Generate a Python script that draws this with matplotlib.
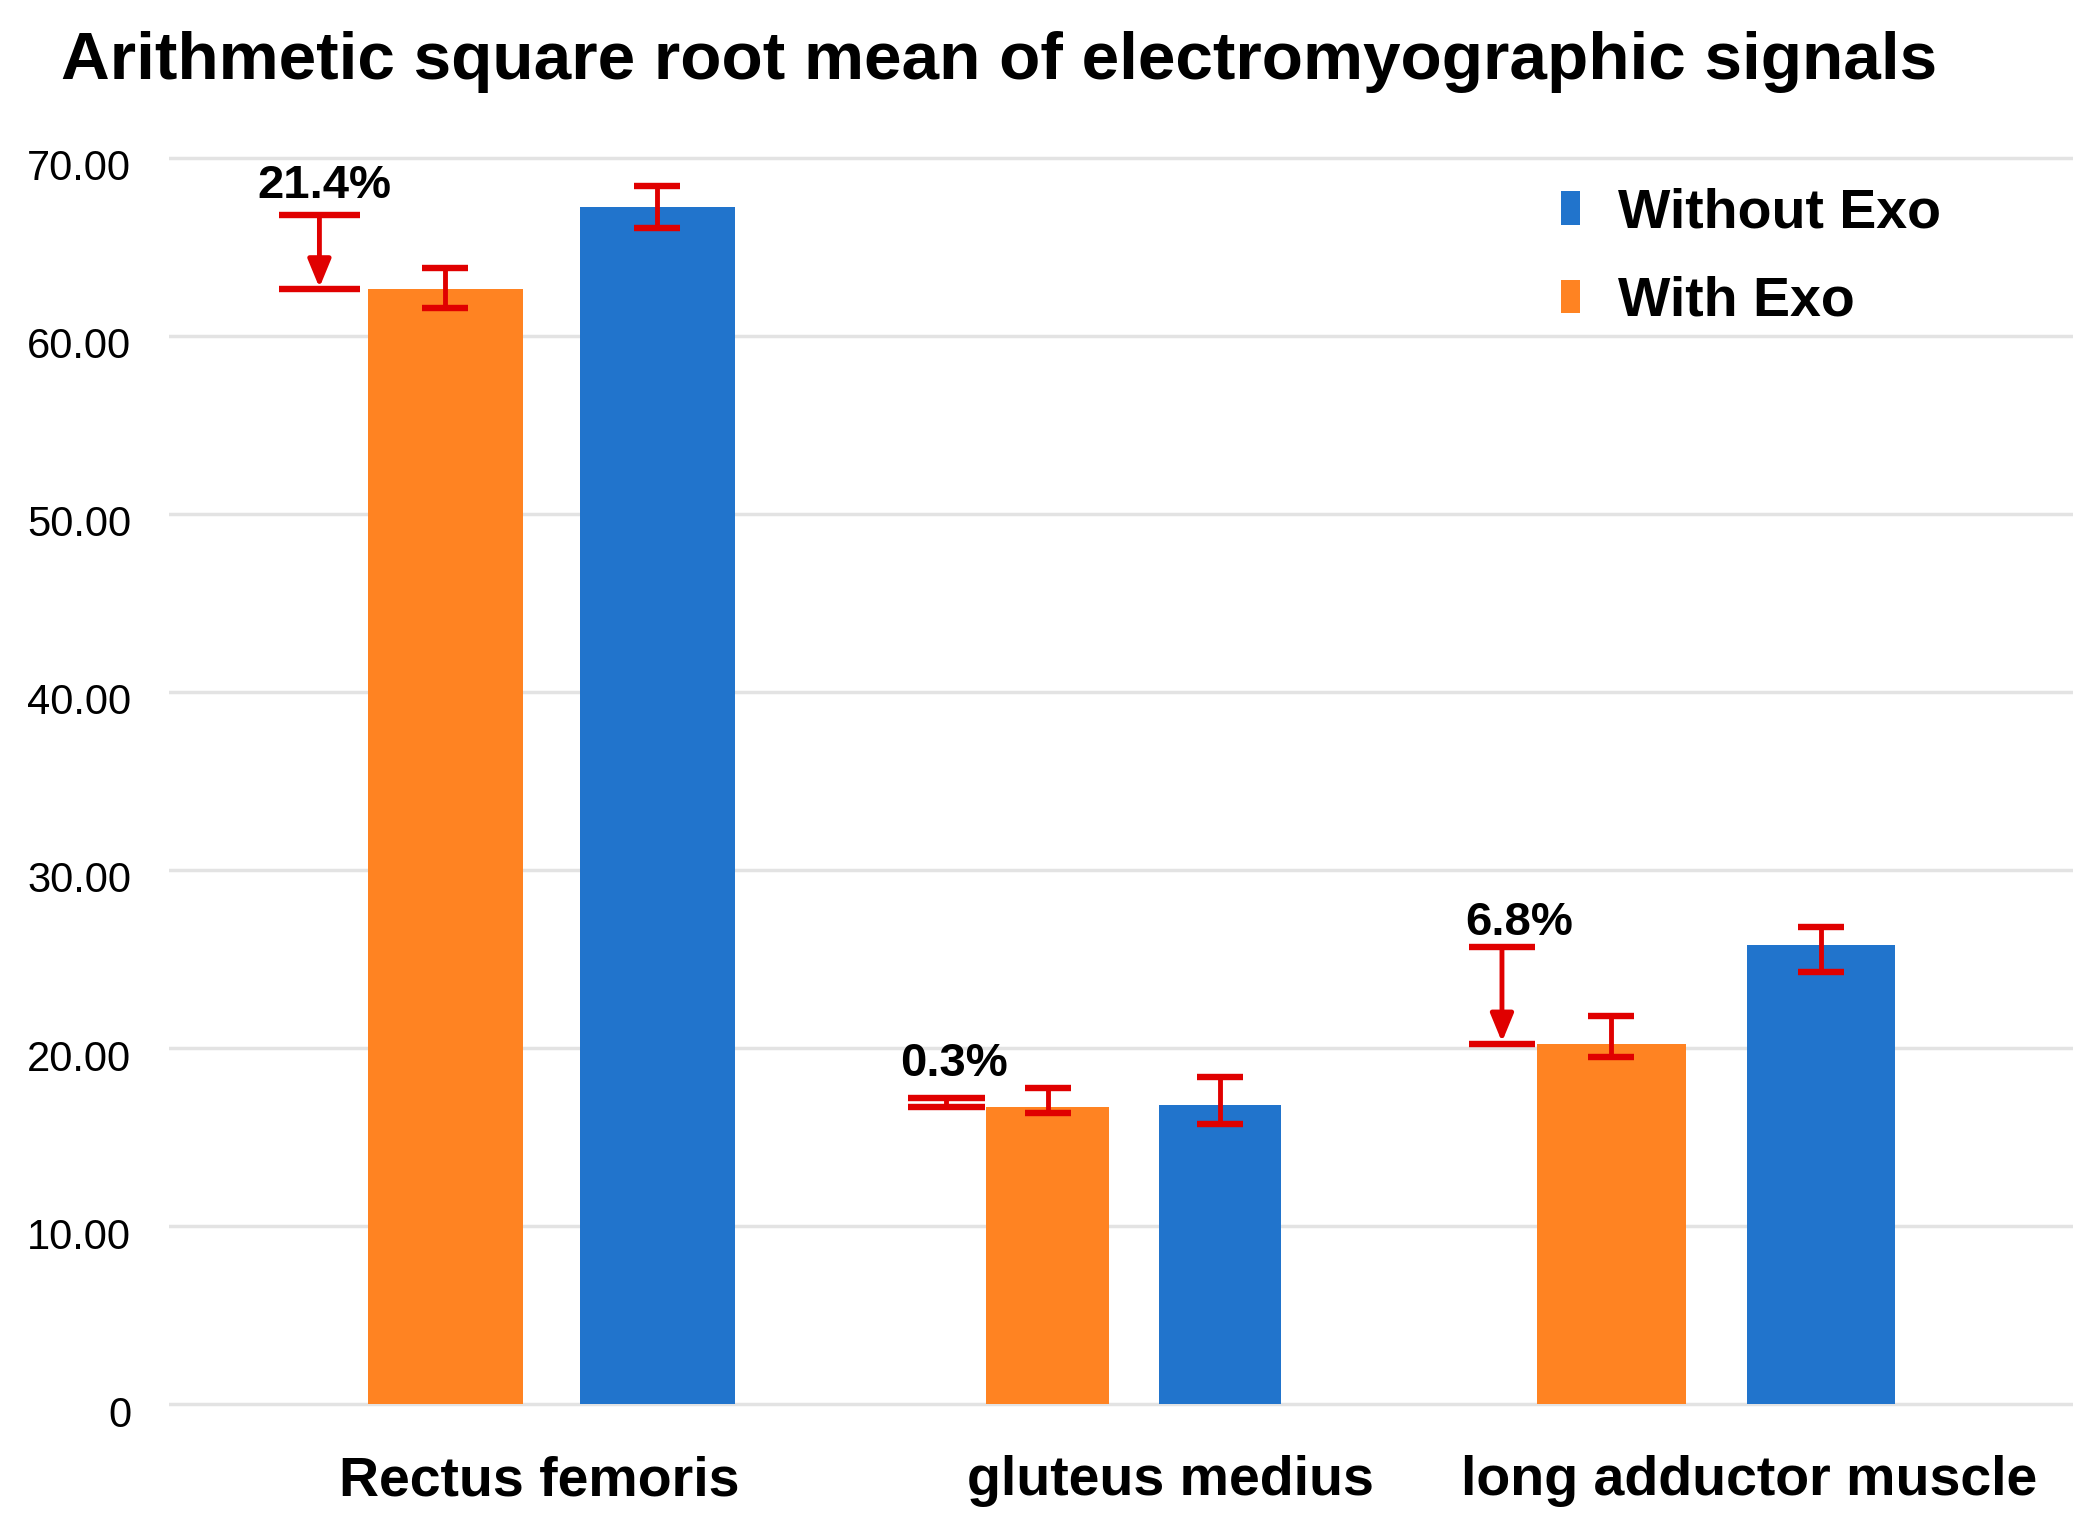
import matplotlib
matplotlib.use('Agg')
import matplotlib.pyplot as plt
from matplotlib.patches import Patch
from matplotlib.transforms import ScaledTranslation, blended_transform_factory

plt.rcParams['font.family'] = ['Liberation Sans', 'DejaVu Sans']

# --- dati ---
categories = ['Rectus femoris', 'gluteus medius', 'long adductor muscle']
with_exo = [62.6, 16.7, 20.24]
with_exo_err_low = [1.03, 0.34, 0.74]
with_exo_err_high = [1.22, 1.04, 1.54]
without_exo = [67.2, 16.8, 25.76]
without_exo_err_low = [1.13, 1.08, 1.48]
without_exo_err_high = [1.22, 1.58, 1.01]
# parentesi della riduzione: da with_exo fino a questo valore
bracket_top = [66.8, 17.2, 25.66]
reduction_labels = ['21.4%', '0.3%', '6.8%']
y_ticks = [0, 10, 20, 30, 40, 50, 60, 70]
y_tick_labels = ['0', '10.00', '20.00', '30.00', '40.00', '50.00', '60.00', '70.00']

ORANGE = '#ff8322'
BLUE = '#2174cc'
RED = '#e00000'
GRID = '#e3e3e3'

# layout per gruppo (nell'originale le barre hanno larghezze leggermente diverse)
bar_width = [0.266, 0.21, 0.255]
bar_offset = [0.182, 0.148, 0.18]
bracket_dx = [-0.398, -0.322, -0.368]
bracket_half = [0.07, 0.066, 0.056]
text_dx = [0.008, 0.014, 0.03]
text_dy = [12, 16, 9]
label_dx = [-0.02, 0.0625, 0.056]

fig = plt.figure(figsize=(20.91, 15.16), dpi=100)
ax = fig.add_axes([0.0806, 0.0702, 0.9110, 0.8317])

x_orange = [i - bar_offset[i] for i in range(len(categories))]
x_blue = [i + bar_offset[i] for i in range(len(categories))]

ax.bar(x_orange, with_exo, width=bar_width, color=ORANGE, zorder=2, label='With Exo')
ax.bar(x_blue, without_exo, width=bar_width, color=BLUE, zorder=2, label='Without Exo')

ax.errorbar(x_orange, with_exo, yerr=[with_exo_err_low, with_exo_err_high], fmt='none',
            ecolor=RED, elinewidth=3.5, capsize=16.7, capthick=4.6, zorder=4)
ax.errorbar(x_blue, without_exo, yerr=[without_exo_err_low, without_exo_err_high], fmt='none',
            ecolor=RED, elinewidth=3.5, capsize=16.7, capthick=4.6, zorder=4)

# parentesi con la riduzione percentuale
for i, lab in enumerate(reduction_labels):
    xc = i + bracket_dx[i]
    top, bottom = bracket_top[i], with_exo[i]
    ax.hlines([top, bottom], xc - bracket_half[i], xc + bracket_half[i],
              color=RED, lw=4.6, zorder=4)
    if top - bottom > 1.5:
        ax.annotate('', xy=(xc, bottom + 0.1), xytext=(xc, top),
                    arrowprops=dict(arrowstyle='-|>,head_length=1.7,head_width=0.7',
                                    color=RED, lw=3.5, shrinkA=0, shrinkB=0), zorder=4)
    else:
        ax.vlines(xc, bottom, top, color=RED, lw=3.5, zorder=4)
    ax.annotate(lab, xy=(xc + text_dx[i], top), xytext=(0, text_dy[i]), textcoords='offset points',
                ha='center', va='baseline', fontsize=34, fontweight='bold')

ax.set_xlim(-0.657, 2.613)
ax.set_ylim(-0.3, 70.5)
ax.set_yticks(y_ticks)
ax.set_yticklabels(y_tick_labels, fontsize=30)
ax.set_xticks([])
ax.tick_params(axis='y', length=0, pad=27)
ax.yaxis.grid(True, color=GRID, lw=2.5)
ax.set_axisbelow(True)
for s in ax.spines.values():
    s.set_visible(False)

off = ScaledTranslation(0, -5 / 72, fig.dpi_scale_trans)
for t in ax.yaxis.get_major_ticks():
    t.label1.set_transform(t.label1.get_transform() + off)

tr = blended_transform_factory(ax.transData, fig.transFigure)
for i, cat in enumerate(categories):
    ax.text(i + label_dx[i], 0.023, cat, transform=tr, ha='center', va='center',
            fontsize=40, fontweight='bold')

handles = [Patch(facecolor=BLUE, label='Without Exo'), Patch(facecolor=ORANGE, label='With Exo')]
leg = ax.legend(handles=handles, loc='upper left', bbox_to_anchor=(0.731, 0.969),
                frameon=True, fancybox=False, borderpad=0, borderaxespad=0,
                handlelength=0.34, handleheight=0.55, handletextpad=0.68,
                labelspacing=0.65, prop=dict(size=40, weight='bold'))
leg.get_frame().set_edgecolor('none')
leg.get_frame().set_facecolor('white')
leg.get_frame().set_alpha(1)

fig.text(0.029, 0.959, 'Arithmetic square root mean of electromyographic signals',
         ha='left', va='center', fontsize=48.6, fontweight='bold')

fig.savefig('out.png', dpi=100)
